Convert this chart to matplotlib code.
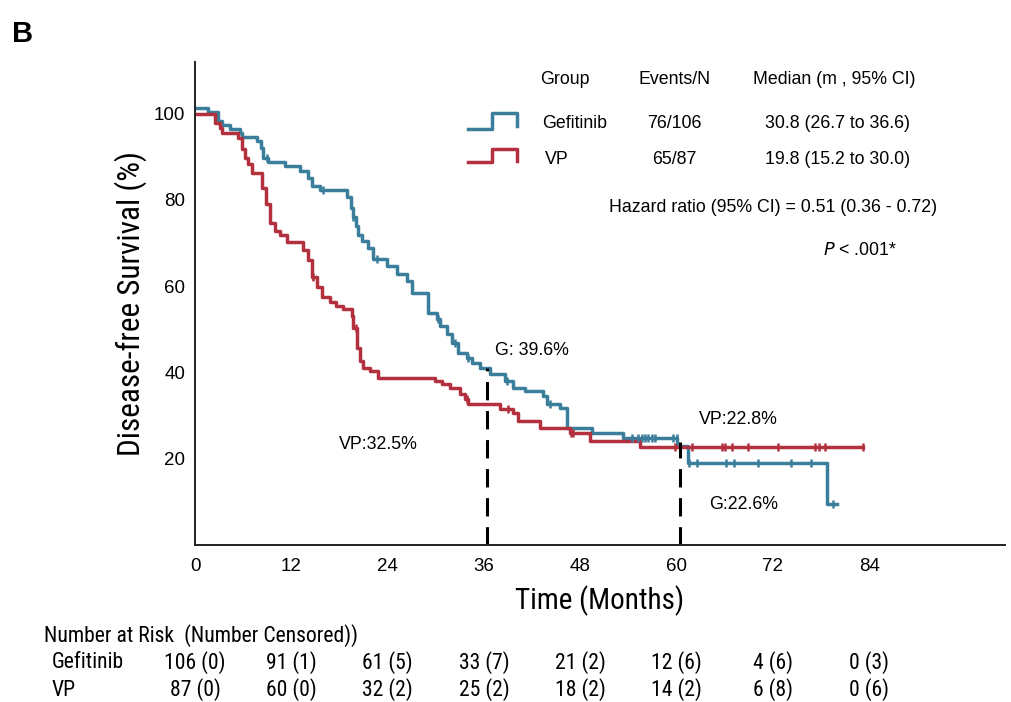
import numpy as np
import matplotlib
matplotlib.use("Agg")
import matplotlib.pyplot as plt
import matplotlib.transforms as mtransforms
from matplotlib import font_manager

# Kaplan-Meier steps (months, survival %)
gef_t = [0, 1.6, 2.9, 3.4, 4.4, 5.6, 5.9, 7.7, 8.2, 8.5, 9.1, 11.2, 13.1, 14.1, 14.6, 15.6,
         18.9, 19.4, 19.7, 20.0, 20.3, 20.8, 21.5, 22.2, 23.9, 25.2, 26.4, 27.0, 29.0, 30.1,
         30.5, 31.4, 32.0, 32.8, 33.9, 34.5, 35.5, 36.7, 38.6, 39.6, 41.1, 43.3, 43.8, 45.5,
         46.3, 49.4, 53.3, 60.1, 61.4, 78.7, 80.0]
gef_s = [101.4, 100.3, 98.4, 97.4, 96.5, 95.6, 94.7, 93.7, 92.0, 89.8, 88.9, 87.9, 86.8, 85.2,
         83.3, 82.4, 80.6, 78.2, 76.0, 74.0, 72.0, 70.5, 68.9, 66.4, 64.7, 62.9, 61.3, 58.5,
         53.8, 52.4, 50.8, 49.0, 46.9, 44.5, 43.4, 42.2, 41.1, 39.7, 38.1, 36.4, 35.7, 34.6,
         32.7, 31.8, 27.1, 26.0, 24.8, 23.0, 19.0, 9.5, 9.5]
gef_cens = [9.0, 16.0, 19.7, 22.7, 30.3, 32.4, 34.0, 38.9, 44.2, 54.4, 55.2, 55.7, 56.0, 56.4,
            56.9, 57.3, 59.5, 60.0, 61.6, 62.6, 66.1, 67.2, 70.2, 74.3, 76.8, 79.5]

vp_t = [0, 2.5, 3.1, 3.4, 5.4, 5.8, 6.2, 6.6, 7.1, 8.4, 8.9, 9.3, 10.0, 10.6, 11.5, 13.5, 14.1,
        14.6, 15.2, 15.8, 16.8, 17.6, 18.4, 19.6, 19.7, 20.2, 20.5, 20.9, 21.8, 22.8, 29.9,
        30.8, 31.8, 33.0, 33.6, 34.0, 38.0, 39.6, 40.2, 43.0, 46.7, 49.2, 55.4, 83.2]
vp_s = [100.0, 97.9, 96.8, 95.6, 94.4, 91.9, 89.8, 88.4, 86.3, 82.8, 79.1, 74.7, 72.9, 71.9,
        70.3, 68.4, 66.1, 62.2, 59.9, 57.5, 56.4, 55.5, 54.8, 53.1, 50.3, 45.7, 42.7, 41.1,
        40.4, 38.7, 38.1, 37.4, 36.4, 35.0, 33.9, 32.7, 31.6, 30.6, 28.8, 27.1, 26.0, 24.1,
        22.7, 22.7]
vp_cens = [14.7, 20.0, 33.9, 39.0, 46.9, 47.1, 59.8, 61.9, 65.6, 66.0, 66.9, 68.9, 72.6, 77.2,
           77.8, 78.5, 83.2]

landmarks = [36.4, 60.4]
landmark_top = [41.0, 24.0]

xticks = [0, 12, 24, 36, 48, 60, 72, 84]
yticks = [20, 40, 60, 80, 100]

risk_gef = ["106 (0)", "91 (1)", "61 (5)", "33 (7)", "21 (2)", "12 (6)", "4 (6)", "0 (3)"]
risk_vp = ["87 (0)", "60 (0)", "32 (2)", "25 (2)", "18 (2)", "14 (2)", "6 (8)", "0 (6)"]

blue = "#3a7e9b"
red = "#b3303f"
plt.rcParams["font.family"] = ["Liberation Sans", "DejaVu Sans"]

# condensed face for axis titles and the risk table, if one is installed
names = {f.name for f in font_manager.fontManager.ttflist}
narrow_fam = None
for cand in ["Liberation Sans Narrow", "Roboto Condensed", "Open Sans Condensed", "DejaVu Sans Condensed"]:
    if cand in names:
        narrow_fam = cand
        break
cond_ttf = [f for f in font_manager.fontManager.ttflist
            if f.stretch in ("condensed", "semi-condensed", 75, 87.5) or "Condensed" in f.fname]
if narrow_fam is None and cond_ttf:
    narrow_fam = cond_ttf[0].name
if narrow_fam is None:
    narrow = dict(family=["Liberation Sans", "DejaVu Sans"])
    xl_fs, yl_fs, tab_fs = 18, 18, 12.5
else:
    narrow = dict(family=[narrow_fam, "DejaVu Sans"], stretch="condensed")
    xl_fs, yl_fs, tab_fs = 21, 22.5, 15.6

fig = plt.figure(figsize=(10.12, 7.02), dpi=100)
ax = fig.add_axes([0.1927, 0.2236, 0.8003, 0.6881])


def surv_at(t, s, c):
    idx = np.searchsorted(t, c, side="right") - 1
    return np.array(s)[idx]


ax.step(gef_t, gef_s, where="post", color=blue, lw=2.5)
ax.step(vp_t, vp_s, where="post", color=red, lw=2.5)
ax.plot(gef_cens, surv_at(gef_t, gef_s, gef_cens), ls="none", marker="|", ms=6, mew=1.8, color=blue)
ax.plot(vp_cens, surv_at(vp_t, vp_s, vp_cens), ls="none", marker="|", ms=6, mew=1.8, color=red)

ax.vlines(landmarks, 0, landmark_top, colors="black", lw=2.2, linestyles=(0, (6, 3.5)))

ax.set_xlim(0, 100.9)
ax.set_ylim(0, 112)
ax.set_xticks(xticks)
ax.set_yticks(yticks)
ax.tick_params(length=0, labelsize=13.5)
ax.tick_params(axis="y", pad=7)
ax.tick_params(axis="x", pad=9)
for sp in ["top", "right"]:
    ax.spines[sp].set_visible(False)
for sp in ["left", "bottom"]:
    ax.spines[sp].set_linewidth(1.4)
    ax.spines[sp].set_color("#222222")

ax.set_ylabel("Disease-free Survival (%)", fontsize=yl_fs, labelpad=5, **narrow)
ax.set_xlabel("Time (Months)", fontsize=xl_fs, labelpad=8, **narrow)

# legend block
fs = 12.8
ax.text(46.1, 107.9, "Group", fontsize=fs, ha="center", va="center")
ax.text(59.7, 107.9, "Events/N", fontsize=fs, ha="center", va="center")
ax.text(79.6, 107.9, "Median (m , 95% CI)", fontsize=fs, ha="center", va="center")
ax.plot([34.0, 37.0, 37.0, 40.1, 40.1], [96.5, 96.5, 100.2, 100.2, 97.2], color=blue, lw=2.5)
ax.plot([34.0, 37.0, 37.0, 40.1, 40.1], [88.8, 88.8, 91.8, 91.8, 89.0], color=red, lw=2.5)
ax.text(43.2, 97.7, "Gefitinib", fontsize=fs, ha="left", va="center")
ax.text(43.6, 89.3, "VP", fontsize=fs, ha="left", va="center")
ax.text(59.7, 97.7, "76/106", fontsize=fs, ha="center", va="center")
ax.text(59.7, 89.3, "65/87", fontsize=fs, ha="center", va="center")
ax.text(80.0, 97.7, "30.8 (26.7 to 36.6)", fontsize=fs, ha="center", va="center")
ax.text(80.0, 89.3, "19.8 (15.2 to 30.0)", fontsize=fs, ha="center", va="center")
ax.text(72.0, 78.2, "Hazard ratio (95% CI) = 0.51 (0.36 - 0.72)", fontsize=fs, ha="center", va="center")
ax.text(82.9, 68.2, r"$P$ < .001*", fontsize=fs, ha="center", va="center")

ax.text(37.4, 45.2, "G: 39.6%", fontsize=fs, ha="left", va="center")
ax.text(22.8, 23.2, "VP:32.5%", fontsize=fs, ha="center", va="center")
ax.text(67.7, 29.2, "VP:22.8%", fontsize=fs, ha="center", va="center")
ax.text(68.4, 9.5, "G:22.6%", fontsize=fs, ha="center", va="center")

# risk table
trans = mtransforms.blended_transform_factory(ax.transData, fig.transFigure)
fig.text(0.043, 1 - 636 / 702, "Number at Risk  (Number Censored))",
         fontsize=tab_fs, ha="left", va="center", **narrow)
fig.text(0.051, 1 - 663 / 702, "Gefitinib", fontsize=tab_fs, ha="left", va="center", **narrow)
fig.text(0.051, 1 - 690 / 702, "VP", fontsize=tab_fs, ha="left", va="center", **narrow)
for x, a, b in zip(xticks, risk_gef, risk_vp):
    ax.text(x, 1 - 663 / 702, a, transform=trans, fontsize=tab_fs,
            ha="center", va="center", clip_on=False, **narrow)
    ax.text(x, 1 - 690 / 702, b, transform=trans, fontsize=tab_fs,
            ha="center", va="center", clip_on=False, **narrow)

fig.text(0.012, 1 - 34 / 702, "B", fontsize=21, fontweight="bold", ha="left", va="center")

fig.savefig("out.png", dpi=100, facecolor="white")
